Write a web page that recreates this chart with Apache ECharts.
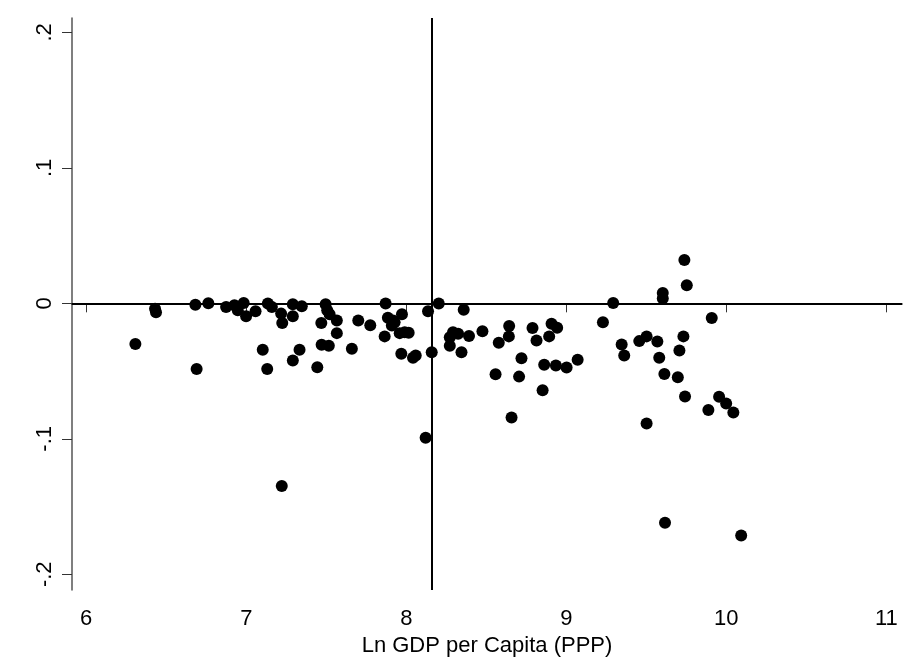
<!DOCTYPE html>
<html lang="en">
<head>
    <meta charset="UTF-8">
    <title>Scatter</title>
    <script src="https://cdn.jsdelivr.net/npm/echarts@6/dist/echarts.min.js"></script>
    <style>
        html, body { margin: 0; padding: 0; background: #fff; }
        #main { width: 923px; height: 667px; }
    </style>
</head>
<body>
<div id="main"></div>
<script type="text/javascript">
    // x: Ln GDP per capita, y: residual value
    var xValues = [6.307, 6.430, 6.436, 6.682, 6.763, 6.690, 6.874, 6.926, 6.947, 6.984,
        6.999, 7.058, 7.103, 7.131, 7.135, 7.160, 7.218, 7.225, 7.291, 7.291,
        7.347, 7.291, 7.333, 7.469, 7.471, 7.516, 7.444, 7.496, 7.506, 7.521,
        7.566, 7.566, 7.660, 7.700, 7.775, 7.871, 7.865, 7.885, 7.917, 7.910,
        7.927, 7.973, 7.969, 7.959, 7.990, 8.015, 8.042, 8.059, 8.136, 8.159,
        8.121, 8.203, 8.359, 8.292, 8.324, 8.272, 8.272, 8.392, 8.345, 8.476,
        8.643, 8.641, 8.578, 8.558, 8.720, 8.705, 8.658, 8.789, 8.814, 8.908,
        8.943, 8.893, 8.862, 8.935, 9.002, 9.071, 8.852, 9.229, 9.293, 9.346,
        9.362, 9.456, 9.502, 9.569, 9.581, 9.613, 9.502, 9.603, 9.603, 9.738,
        9.753, 9.732, 9.707, 9.697, 9.742, 9.909, 9.888, 9.955, 9.999, 10.044,
        7.222, 9.617, 10.093];
    var yValues = [-0.0301, -0.0040, -0.0066, -0.0010, 0.0000, -0.0484, -0.0027, -0.0015, -0.0052, 0.0002,
        -0.0096, -0.0059, -0.0343, -0.0484, -0.0002, -0.0027, -0.0076, -0.0146, -0.0007, -0.0096,
        -0.0022, -0.0422, -0.0343, -0.0146, -0.0306, -0.0313, -0.0472, -0.0007, -0.0052, -0.0081,
        -0.0126, -0.0220, -0.0336, -0.0126, -0.0161, -0.0002, -0.0244, -0.0106, -0.0126, -0.0163,
        -0.0139, -0.0081, -0.0373, -0.0220, -0.0213, -0.0217, -0.0402, -0.0385, -0.0059, -0.0361,
        -0.0993, -0.0002, -0.0047, -0.0213, -0.0224, -0.0250, -0.0313, -0.0242, -0.0361, -0.0207,
        -0.0168, -0.0244, -0.0291, -0.0524, -0.0405, -0.0541, -0.0842, -0.0183, -0.0274, -0.0150,
        -0.0180, -0.0244, -0.0454, -0.0459, -0.0474, -0.0417, -0.0642, -0.0139, 0.0002, -0.0304,
        -0.0385, -0.0279, -0.0244, -0.0281, -0.0402, -0.0521, -0.0887, 0.0076, 0.0035, 0.0319,
        0.0133, -0.0244, -0.0348, -0.0546, -0.0687, -0.0109, -0.0787, -0.0689, -0.0739, -0.0805,
        -0.1348, -0.1620, -0.1713];

    var xTicks = [6, 7, 8, 9, 10, 11];
    var yTicks = [-0.2, -0.1, 0, 0.1, 0.2];
    var xMean = 8.156;

    var points = xValues.map(function (x, i) { return [x, yValues[i]]; });

    var myChart = echarts.init(document.getElementById('main'));
    var option = {
        backgroundColor: '#fff',
        animation: false,
        grid: { left: 72, right: 21, top: 18, bottom: 77 },
        xAxis: {
            type: 'value',
            min: 5.911,
            max: 11.098,
            name: 'Ln GDP per Capita (PPP)',
            nameLocation: 'middle',
            nameGap: 43,
            nameTextStyle: { fontFamily: 'Liberation Sans', fontSize: 22, color: '#000' },
            splitLine: { show: false },
            axisLine: { lineStyle: { color: '#000', width: 1.5 } },
            axisTick: { customValues: xTicks, length: 9, lineStyle: { color: '#333' } },
            axisLabel: {
                customValues: xTicks,
                margin: 18,
                fontFamily: 'Liberation Sans', fontSize: 22, color: '#000'
            }
        },
        yAxis: {
            type: 'value',
            min: -0.2116,
            max: 0.2106,
            splitLine: { show: false },
            axisLine: { lineStyle: { color: '#555', width: 1.5 } },
            axisTick: { customValues: yTicks, length: 10, lineStyle: { color: '#333' } },
            axisLabel: {
                customValues: yTicks,
                rotate: 90,
                margin: 16,
                fontFamily: 'Liberation Sans', fontSize: 22, color: '#000',
                formatter: function (v) {
                    if (Math.abs(v) < 1e-9) return '0';
                    var s = String(Math.abs(Math.round(v * 10) / 10)).replace(/^0/, '');
                    return (v < 0 ? '-' : '') + s;
                }
            }
        },
        series: [{
            type: 'scatter',
            data: points,
            symbol: 'circle',
            symbolSize: 12,
            itemStyle: { color: '#000', opacity: 1 },
            markLine: {
                silent: true,
                symbol: 'none',
                label: { show: false },
                lineStyle: { color: '#000', width: 2, type: 'solid' },
                data: [{ xAxis: xMean }, { yAxis: 0 }]
            },
            z: 3
        }]
    };
    myChart.setOption(option);
</script>
</body>
</html>
